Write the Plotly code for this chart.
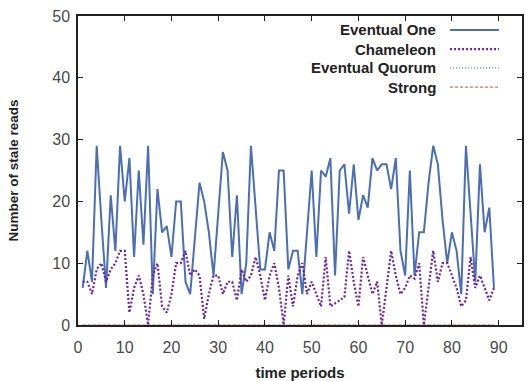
import plotly.graph_objects as go

periods = list(range(1, 90))

eventual_one = [6, 12, 7, 29, 17, 6, 21, 12, 29, 20,
                27, 11, 25, 13, 29, 5, 22, 15, 16, 11,
                20, 20, 7, 5, 14, 23, 20, 15, 8, 18,
                28, 25, 11, 21, 5, 10, 29, 19, 9, 9,
                15, 12, 25, 25, 9, 12, 12, 5, 15, 25,
                11, 25, 24, 27, 8, 25, 26, 18, 26, 17,
                21, 19, 27, 25, 26, 26, 22, 27, 12, 8,
                25, 8, 15, 15, 23, 29, 26, 17, 10, 15,
                12, 5, 29, 18, 7, 26, 15, 19, 6]

chameleon = [7, 7, 5, 9, 10, 7, 9, 10, 12, 12,
             2, 6, 8, 5, 0, 8, 10, 3, 2, 5,
             10, 10, 12, 8, 9, 8, 1, 5, 8, 8,
             5, 7, 7, 4, 9, 7, 8, 11, 8, 4,
             8, 10, 6, 0, 8, 3, 8, 10, 5, 7,
             5, 3, 11, 3, 3.5, 4, 4.5, 12, 7, 3,
             11, 8, 5, 7, 0, 6, 12, 8, 5, 6,
             8, 7.5, 10, 0, 6, 12, 7, 10, 10, 8,
             6, 3, 4, 11, 6, 8, 6, 4, 6]

eventual_quorum = [0] * 89
strong = [0] * 89

series_names = ["Eventual One", "Chameleon", "Eventual Quorum", "Strong"]
series_colors = ["#4a6fb6", "#6a22a8", "#4e9a80", "#e06a6a"]
series_dash = ["solid", "2px,2px", "1px,2px", "3px,2px"]
series_width = [2, 2.2, 1.2, 1.2]
series_values = [eventual_one, chameleon, eventual_quorum, strong]

fig = go.Figure()
for name, vals, col, dash, w in zip(series_names, series_values, series_colors, series_dash, series_width):
    fig.add_trace(go.Scatter(x=periods, y=vals, mode="lines", name=name,
                             line=dict(color=col, dash=dash, width=w),
                             showlegend=False))

# custom legend (text right-aligned, sample line to the right)
leg_y = [0.955, 0.893, 0.832, 0.770]
for name, col, dash, w, yy in zip(series_names, series_colors, series_dash, series_width, leg_y):
    fig.add_annotation(xref="paper", yref="paper", x=0.811, y=yy, text="<b>%s</b>" % name,
                       showarrow=False, xanchor="right", yanchor="middle",
                       font=dict(family="Liberation Sans, Arial", size=15, color="#222222"))
    fig.add_shape(type="line", xref="paper", yref="paper", x0=0.838, x1=0.948, y0=yy, y1=yy,
                  line=dict(color=col, dash=dash, width=max(w, 1.2)))

axis_common = dict(showline=True, linecolor="#222222", linewidth=1.5, mirror="ticks",
                   ticks="inside", ticklen=5, tickcolor="#222222", tickwidth=1,
                   showgrid=False, zeroline=False,
                   tickfont=dict(family="Liberation Sans, Arial", size=16, color="#4a4a4a"))

fig.update_layout(
    width=530, height=381,
    margin=dict(l=78, r=8, t=16, b=56),
    plot_bgcolor="white", paper_bgcolor="white",
    xaxis=dict(range=[0, 95], tickvals=[0, 10, 20, 30, 40, 50, 60, 70, 80, 90],
               ticklabelstandoff=7, automargin=False,
               title=dict(text="<b>time periods</b>", standoff=13,
                          font=dict(family="Liberation Sans, Arial", size=15, color="#222222")),
               **axis_common),
    yaxis=dict(range=[0, 50], tickvals=[0, 10, 20, 30, 40, 50],
               ticklabelstandoff=3, automargin=False,
               title=dict(text="<b>Number of stale reads</b>", standoff=31,
                          font=dict(family="Liberation Sans, Arial", size=13.5, color="#222222")),
               **axis_common),
)

fig.write_html("out.html")
